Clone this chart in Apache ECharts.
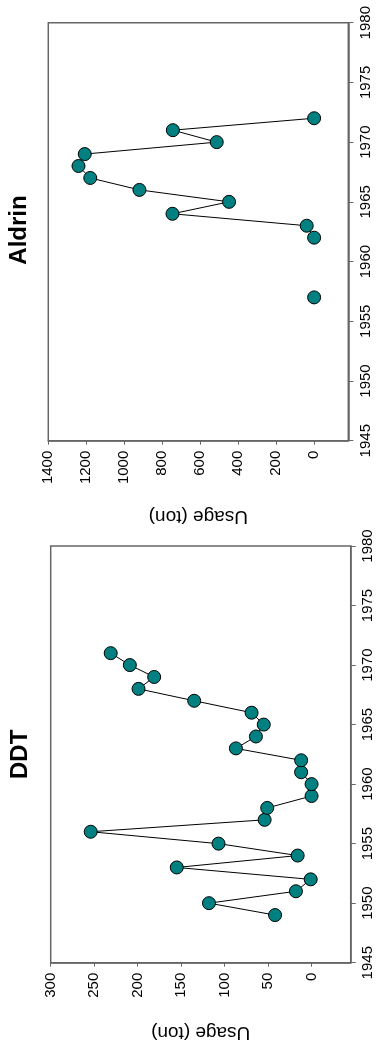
<!DOCTYPE html>
<html>
<head>
<meta charset="utf-8">
<script src="https://cdn.jsdelivr.net/npm/echarts@6/dist/echarts.min.js"></script>
<style>
html,body{margin:0;padding:0;background:#fff;}
#c{width:384px;height:1051px;}
</style>
</head>
<body>
<div id="c"></div>
<script>
// ---- Data ----
var ddtYears = [1949,1950,1951,1952,1953,1954,1955,1956,1957,1958,1959,1960,1961,1962,1963,1964,1965,1966,1967,1968,1969,1970,1971];
var ddtUsage = [42,118,18,1,155,16,107,254,54,51,0,0,12,12,87,64,55,69,135,199,181,209,231];

var aldrinYears = [1957,1958,1959,1960,1961,1962,1963,1964,1965,1966,1967,1968,1969,1970,1971,1972];
var aldrinUsage = [0,null,null,null,null,0,39,746,448,920,1179,1241,1208,513,744,0];

var yearTicks = [1945,1950,1955,1960,1965,1970,1975,1980];
var ddtTicks = [0,50,100,150,200,250,300];
var aldrinTicks = [0,200,400,600,800,1000,1200,1400];

var titles = ['Aldrin','DDT'];
var axisTitle = 'Usage (ton)';

// ---- Chart ----
var FONT = "'Liberation Sans', Arial, sans-serif";
var AX = '#666';

function pairs(years, vals){
  return years.map(function(y,i){ return [vals[i]==null?'-':vals[i], y]; });
}
function plain(v){ return String(v); }

function usageAxis(idx, min, max, ticks, gap){
  return {
    gridIndex: idx, type:'value', inverse:true, position:'bottom',
    min:min, max:max,
    axisLine:{show:true, onZero:false, lineStyle:{color:AX, width:1.5}},
    axisTick:{show:true, inside:false, length:4, customValues:ticks, lineStyle:{color:AX, width:1}},
    axisLabel:{show:true, customValues:ticks, formatter:plain, rotate:90, margin:10, fontSize:15, color:'#000', fontFamily:FONT},
    splitLine:{show:false},
    name:axisTitle, nameLocation:'middle', nameRotate:180, nameGap:gap,
    nameTextStyle:{fontSize:19, color:'#000', fontFamily:FONT}
  };
}
function yearAxis(idx){
  return {
    gridIndex: idx, type:'value', position:'right',
    min:yearTicks[0], max:yearTicks[yearTicks.length-1], interval:5,
    axisLine:{show:true, onZero:false, lineStyle:{color:AX, width:1.5}},
    axisTick:{show:true, inside:false, length:5, lineStyle:{color:AX, width:1}},
    axisLabel:{show:true, formatter:plain, rotate:90, margin:10, fontSize:15, color:'#000', fontFamily:FONT},
    splitLine:{show:false}
  };
}
function lineSeries(idx, years, vals){
  return {
    type:'line', xAxisIndex:idx, yAxisIndex:idx,
    data:pairs(years, vals),
    connectNulls:false, showAllSymbol:true,
    symbol:'circle', symbolSize:13,
    itemStyle:{color:'#008080', borderColor:'#000', borderWidth:1},
    lineStyle:{color:'#000', width:1},
    z:3
  };
}

var chart = echarts.init(document.getElementById('c'), null, {renderer:'canvas'});
chart.setOption({
  animation:false,
  backgroundColor:'#fff',
  grid:[
    {left:48.3, top:22.7, width:300, height:418, show:true, borderColor:AX, borderWidth:1.5, containLabel:false},
    {left:50.7, top:546, width:300, height:416.7, show:true, borderColor:AX, borderWidth:1.5, containLabel:false}
  ],
  xAxis:[ usageAxis(0,-180,1400,aldrinTicks,66), usageAxis(1,-45,300,ddtTicks,60) ],
  yAxis:[ yearAxis(0), yearAxis(1) ],
  series:[ lineSeries(0, aldrinYears, aldrinUsage), lineSeries(1, ddtYears, ddtUsage) ],
  graphic:[
    {type:'text', x:19.5, y:230, rotation:Math.PI/2,
     style:{text:titles[0], font:"bold 24px "+FONT, fill:'#000', textAlign:'center', textVerticalAlign:'middle'}},
    {type:'text', x:20.5, y:754.3, rotation:Math.PI/2,
     style:{text:titles[1], font:"bold 24px "+FONT, fill:'#000', textAlign:'center', textVerticalAlign:'middle'}}
  ]
});
</script>
</body>
</html>
